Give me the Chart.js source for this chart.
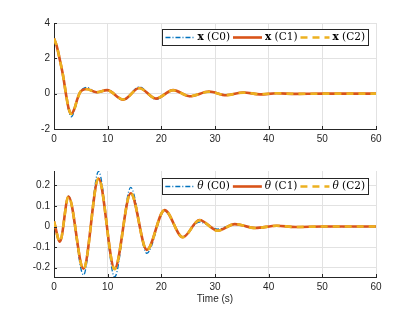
<!doctype html>
<html>

<head>
	<title>Pendulum response</title>
	<script src="https://cdn.jsdelivr.net/npm/chart.js@4/dist/chart.umd.min.js"></script>
	<style>
		body { margin: 0; background: #fff; }
		.holder { position: absolute; left: 0; width: 415px; }
	</style>
</head>

<body>
	<div class="holder" style="top:0;height:150px"><canvas id="cart" width="415" height="150"></canvas></div>
	<div class="holder" style="top:150px;height:162px"><canvas id="angle" width="415" height="162"></canvas></div>

	<script>
		// cart position x, knots
		var tX = [0, 0.5, 1.1, 1.7, 2.3, 2.7, 3.2, 3.8, 4.3, 4.8, 5.4, 6.1, 7.9, 9.9, 12.9, 15.9, 19.0, 22.2, 25.3, 28.9, 32.1, 35.3, 38.4, 41.5, 45, 50, 55, 60];
		var xC0 = [3.12, 2.7, 1.9, 1.0, -0.18, -0.9, -1.31, -0.98, -0.4, 0.06, 0.28, 0.36, 0.06, 0.21, -0.37, 0.38, -0.32, 0.22, -0.16, 0.13, -0.09, 0.07, -0.04, 0.02, -0.01, 0, 0, 0];
		var xC1 = [3.12, 2.7, 1.9, 1.0, -0.15, -0.8, -1.14, -0.85, -0.35, 0.05, 0.22, 0.26, 0.08, 0.2, -0.34, 0.32, -0.28, 0.2, -0.15, 0.12, -0.09, 0.07, -0.04, 0.02, -0.01, 0, 0, 0];
		var xC2 = [3.12, 2.7, 1.9, 1.0, -0.15, -0.8, -1.15, -0.86, -0.36, 0.05, 0.22, 0.25, 0.08, 0.2, -0.33, 0.31, -0.27, 0.19, -0.14, 0.11, -0.08, 0.06, -0.03, 0.02, -0.01, 0, 0, 0];

		// pendulum angle theta
		var tTh = [0, 1.1, 2.7, 5.5, 8.3, 11.3, 14.3, 17.3, 20.6, 24.0, 27.1, 30.5, 33.7, 37.5, 41.5, 45, 50, 55, 60];
		var thC0 = [0.025, -0.073, 0.148, -0.235, 0.268, -0.245, 0.19, -0.13, 0.076, -0.05, 0.022, -0.012, 0.011, -0.008, 0.004, -0.002, 0, 0, 0];
		var thC1 = [0.025, -0.073, 0.146, -0.205, 0.233, -0.205, 0.162, -0.113, 0.08, -0.052, 0.032, -0.02, 0.012, -0.007, 0.004, -0.002, 0, 0, 0];
		var thC2 = [0.025, -0.073, 0.146, -0.207, 0.235, -0.207, 0.163, -0.114, 0.08, -0.052, 0.031, -0.02, 0.012, -0.007, 0.004, -0.002, 0, 0, 0];

		var timeTicks = [0, 10, 20, 30, 40, 50, 60];
		var xTicks = [-2, 0, 2, 4];
		var thTicks = [-0.2, -0.1, 0, 0.1, 0.2];
		var seriesNames = ['C0', 'C1', 'C2'];

		var axisColor = '#262626';
		var gridColor = '#e2e2e2';

		function pts(t, v) {
			return t.map((tt, i) => ({ x: tt, y: v[i] }));
		}

		// look of the three controllers (MATLAB default colours)
		var styles = [
			{ borderColor: '#0072BD', borderWidth: 1.3, borderDash: [5, 2, 1, 2], order: 2 },
			{ borderColor: '#D95319', borderWidth: 2.6, borderDash: [], order: 1 },
			{ borderColor: '#EDB120', borderWidth: 2.6, borderDash: [7, 5], order: 0 },
		];

		function makeSets(t, arrs) {
			return arrs.map((a, i) => Object.assign({
				label: seriesNames[i],
				data: pts(t, a),
				pointRadius: 0,
				fill: false,
				cubicInterpolationMode: 'monotone',
			}, styles[i]));
		}

		// boxed legend in the top right corner, plus inward tick marks
		var boxLegend = {
			id: 'boxLegend',
			afterDraw(chart, args, opts) {
				var ctx = chart.ctx;
				var area = chart.chartArea;
				ctx.save();

				// inward ticks on left and bottom axes
				ctx.strokeStyle = axisColor;
				ctx.lineWidth = 1;
				var xs = chart.scales.x, ys = chart.scales.y;
				ctx.beginPath();
				xs.ticks.forEach(tk => {
					var px = Math.round(xs.getPixelForValue(tk.value)) + 0.5;
					ctx.moveTo(px, area.bottom);
					ctx.lineTo(px, area.bottom - 3);
				});
				ys.ticks.forEach(tk => {
					var py = Math.round(ys.getPixelForValue(tk.value)) + 0.5;
					ctx.moveTo(area.left, py);
					ctx.lineTo(area.left + 3, py);
				});
				ctx.stroke();

				var sym = opts.symbol;
				var symFont = opts.symbolFont;
				var font = '10.5px "DejaVu Serif"';
				var lineLen = 29;
				var widths = seriesNames.map(n => {
					ctx.font = symFont;
					var w1 = ctx.measureText(sym).width;
					ctx.font = font;
					return w1 + ctx.measureText(' (' + n + ')').width;
				});
				var total = 3;
				widths.forEach(w => { total += lineLen + 3 + w + 3; });
				var h = 16;
				var right = area.right - 8;
				var left = right - total;
				var top = area.top + opts.offset;

				ctx.fillStyle = '#fff';
				ctx.fillRect(left, top, total, h);
				ctx.strokeStyle = axisColor;
				ctx.lineWidth = 1;
				ctx.strokeRect(Math.round(left) + 0.5, Math.round(top) + 0.5, Math.round(total), h);

				var cx = left + 3;
				var cy = top + h / 2 + 0.5;
				seriesNames.forEach((n, i) => {
					var st = styles[i];
					ctx.strokeStyle = st.borderColor;
					ctx.lineWidth = st.borderWidth;
					ctx.setLineDash(st.borderDash);
					ctx.beginPath();
					ctx.moveTo(cx, cy);
					ctx.lineTo(cx + lineLen, cy);
					ctx.stroke();
					ctx.setLineDash([]);
					cx += lineLen + 3;
					ctx.fillStyle = '#000';
					ctx.textBaseline = 'middle';
					ctx.textAlign = 'left';
					ctx.font = symFont;
					ctx.fillText(sym, cx, cy);
					var w1 = ctx.measureText(sym).width;
					ctx.font = font;
					ctx.fillText(' (' + n + ')', cx + w1, cy);
					cx += widths[i] + 3;
				});
				ctx.restore();
			}
		};

		function makeChart(id, t, arrs, yMin, yMax, yTicks, opts) {
			var ctx = document.getElementById(id).getContext('2d');
			return new Chart(ctx, {
				type: 'line',
				data: { datasets: makeSets(t, arrs) },
				plugins: [boxLegend],
				options: {
					responsive: false,
					animation: false,
					layout: { padding: { left: 30, right: 39, top: opts.top, bottom: 5 } },
					plugins: {
						legend: { display: false },
						tooltip: { enabled: false },
						boxLegend: { symbol: opts.symbol, symbolFont: opts.symbolFont, offset: opts.legendOffset },
					},
					scales: {
						x: {
							type: 'linear',
							min: 0,
							max: 60,
							afterBuildTicks: s => { s.ticks = timeTicks.map(v => ({ value: v })); },
							afterFit: s => { s.height = opts.xHeight; },
							grid: { color: gridColor, drawTicks: false },
							border: { color: axisColor, width: 1 },
							ticks: { padding: 4, color: axisColor, font: { family: '"Liberation Sans", Arial', size: 10 }, maxRotation: 0 },
							title: {
								display: !!opts.xTitle,
								text: opts.xTitle || '',
								color: axisColor,
								font: { family: '"Liberation Sans", Arial', size: 10 },
								padding: { top: 2, bottom: 2 },
							},
						},
						y: {
							type: 'linear',
							min: yMin,
							max: yMax,
							afterBuildTicks: s => { s.ticks = yTicks.map(v => ({ value: v })); },
							afterFit: s => { s.width = 24; },
							grid: { color: gridColor, drawTicks: false },
							border: { color: axisColor, width: 1 },
							ticks: {
								padding: 4,
								color: axisColor,
								font: { family: '"Liberation Sans", Arial', size: 10 },
								callback: v => String(v),
							},
						},
					},
				},
			});
		}

		makeChart('cart', tX, [xC0, xC1, xC2], -2, 4, xTicks,
			{ top: 23, xHeight: 16, symbol: 'x', symbolFont: 'bold 10.5px "DejaVu Serif"', legendOffset: 6 });
		makeChart('angle', tTh, [thC0, thC1, thC2], -0.245, 0.27, thTicks,
			{ top: 21, xHeight: 30, xTitle: 'Time (s)', symbol: 'θ', symbolFont: 'italic 10.5px "DejaVu Serif"', legendOffset: 7 });
	</script>
</body>

</html>
